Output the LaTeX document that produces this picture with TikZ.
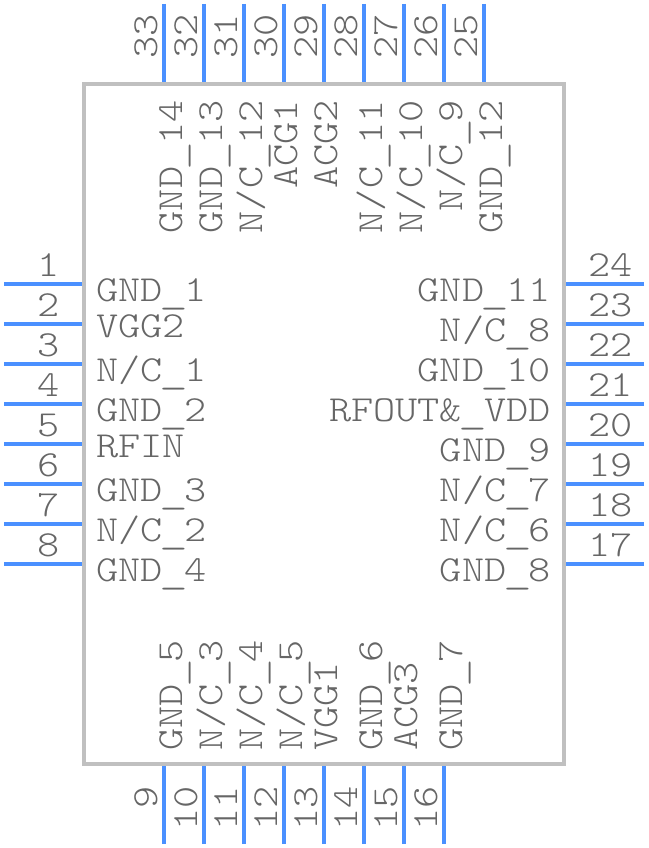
\documentclass[tikz,border=0pt]{standalone}
\usepackage{fontspec}
\setmonofont[FakeStretch=1.15]{Latin Modern Mono Light}
\definecolor{pinblue}{HTML}{4A90FF}
\definecolor{bodygray}{HTML}{C0C0C0}
\definecolor{textgray}{HTML}{666666}
\newcommand{\us}{\raisebox{-2.2pt}{\makebox[22.2pt]{\scalebox{1.3}[1]{\_}}}}
\tikzset{
  txt/.style={inner sep=0pt,text=textgray,font=\ttfamily\fontsize{36.7}{36.7}\selectfont},
  pin/.style={draw=pinblue,line width=4pt},
}
\begin{document}
\begin{tikzpicture}[x=1pt,y=-1pt]
\useasboundingbox (0,0) rectangle (648,848);
\node[draw=bodygray,line width=4pt,minimum width=480pt,minimum height=680pt,inner sep=0pt] at (324,424) (body) {};
% left side
\coordinate (p1) at (4,284);
\coordinate (p2) at (4,324);
\coordinate (p3) at (4,364);
\coordinate (p4) at (4,404);
\coordinate (p5) at (4,444);
\coordinate (p6) at (4,484);
\coordinate (p7) at (4,524);
\coordinate (p8) at (4,564);
\draw[pin] (p1) to (p1 -| body.west);
\draw[pin] (p2) to (p2 -| body.west);
\draw[pin] (p3) to (p3 -| body.west);
\draw[pin] (p4) to (p4 -| body.west);
\draw[pin] (p5) to (p5 -| body.west);
\draw[pin] (p6) to (p6 -| body.west);
\draw[pin] (p7) to (p7 -| body.west);
\draw[pin] (p8) to (p8 -| body.west);
\node[txt,anchor=base east] at (60,276) (n1) {1};
\node[txt,anchor=base east] at (60,316) (n2) {2};
\node[txt,anchor=base east] at (60,356) (n3) {3};
\node[txt,anchor=base east] at (60,396) (n4) {4};
\node[txt,anchor=base east] at (60,436) (n5) {5};
\node[txt,anchor=base east] at (60,476) (n6) {6};
\node[txt,anchor=base east] at (60,516) (n7) {7};
\node[txt,anchor=base east] at (60,556) (n8) {8};
\node[txt,anchor=base west] at (96,301) (gnd1) {GND\us 1};
\node[txt,anchor=base west] at (96,337) (vgg2) {VGG2};
\node[txt,anchor=base west] at (96,381) (nc1) {N/C\us 1};
\node[txt,anchor=base west] at (96,421) (gnd2) {GND\us 2};
\node[txt,anchor=base west] at (96,457) (rfin) {RFIN};
\node[txt,anchor=base west] at (96,501) (gnd3) {GND\us 3};
\node[txt,anchor=base west] at (96,541) (nc2) {N/C\us 2};
\node[txt,anchor=base west] at (96,581) (gnd4) {GND\us 4};
% bottom side
\coordinate (p9) at (164,844);
\coordinate (p10) at (204,844);
\coordinate (p11) at (244,844);
\coordinate (p12) at (284,844);
\coordinate (p13) at (324,844);
\coordinate (p14) at (364,844);
\coordinate (p15) at (404,844);
\coordinate (p16) at (444,844);
\draw[pin] (p9) to (p9 |- body.south);
\draw[pin] (p10) to (p10 |- body.south);
\draw[pin] (p11) to (p11 |- body.south);
\draw[pin] (p12) to (p12 |- body.south);
\draw[pin] (p13) to (p13 |- body.south);
\draw[pin] (p14) to (p14 |- body.south);
\draw[pin] (p15) to (p15 |- body.south);
\draw[pin] (p16) to (p16 |- body.south);
\node[txt,rotate=90,anchor=base east] at (157,786) (n9) {9};
\node[txt,rotate=90,anchor=base east] at (197,786) (n10) {10};
\node[txt,rotate=90,anchor=base east] at (237,786) (n11) {11};
\node[txt,rotate=90,anchor=base east] at (277,786) (n12) {12};
\node[txt,rotate=90,anchor=base east] at (317,786) (n13) {13};
\node[txt,rotate=90,anchor=base east] at (357,786) (n14) {14};
\node[txt,rotate=90,anchor=base east] at (397,786) (n15) {15};
\node[txt,rotate=90,anchor=base east] at (437,786) (n16) {16};
\node[txt,rotate=90,anchor=base west] at (182,751) (gnd5) {GND\us 5};
\node[txt,rotate=90,anchor=base west] at (222,751) (nc3) {N/C\us 3};
\node[txt,rotate=90,anchor=base west] at (262,751) (nc4) {N/C\us 4};
\node[txt,rotate=90,anchor=base west] at (302,751) (nc5) {N/C\us 5};
\node[txt,rotate=90,anchor=base west] at (337,751) (vgg1) {VGG1};
\node[txt,rotate=90,anchor=base west] at (382,751) (gnd6) {GND\us 6};
\node[txt,rotate=90,anchor=base west] at (417,751) (acg3) {ACG3};
\node[txt,rotate=90,anchor=base west] at (462,751) (gnd7) {GND\us 7};
% right side
\coordinate (p17) at (644,564);
\coordinate (p18) at (644,524);
\coordinate (p19) at (644,484);
\coordinate (p20) at (644,444);
\coordinate (p21) at (644,404);
\coordinate (p22) at (644,364);
\coordinate (p23) at (644,324);
\coordinate (p24) at (644,284);
\draw[pin] (p17) to (p17 -| body.east);
\draw[pin] (p18) to (p18 -| body.east);
\draw[pin] (p19) to (p19 -| body.east);
\draw[pin] (p20) to (p20 -| body.east);
\draw[pin] (p21) to (p21 -| body.east);
\draw[pin] (p22) to (p22 -| body.east);
\draw[pin] (p23) to (p23 -| body.east);
\draw[pin] (p24) to (p24 -| body.east);
\node[txt,anchor=base west] at (588,556) (n17) {17};
\node[txt,anchor=base west] at (588,516) (n18) {18};
\node[txt,anchor=base west] at (588,476) (n19) {19};
\node[txt,anchor=base west] at (588,436) (n20) {20};
\node[txt,anchor=base west] at (588,396) (n21) {21};
\node[txt,anchor=base west] at (588,356) (n22) {22};
\node[txt,anchor=base west] at (588,316) (n23) {23};
\node[txt,anchor=base west] at (588,276) (n24) {24};
\node[txt,anchor=base east] at (551,581) (gnd8) {GND\us 8};
\node[txt,anchor=base east] at (551,541) (nc6) {N/C\us 6};
\node[txt,anchor=base east] at (551,501) (nc7) {N/C\us 7};
\node[txt,anchor=base east] at (551,461) (gnd9) {GND\us 9};
\node[txt,anchor=base east] at (551,421) (rfout) {RFOUT\&\us VDD};
\node[txt,anchor=base east] at (551,381) (gnd10) {GND\us 10};
\node[txt,anchor=base east] at (551,341) (nc8) {N/C\us 8};
\node[txt,anchor=base east] at (551,301) (gnd11) {GND\us 11};
% top side
\coordinate (p25) at (484,4);
\coordinate (p26) at (444,4);
\coordinate (p27) at (404,4);
\coordinate (p28) at (364,4);
\coordinate (p29) at (324,4);
\coordinate (p30) at (284,4);
\coordinate (p31) at (244,4);
\coordinate (p32) at (204,4);
\coordinate (p33) at (164,4);
\draw[pin] (p25) to (p25 |- body.north);
\draw[pin] (p26) to (p26 |- body.north);
\draw[pin] (p27) to (p27 |- body.north);
\draw[pin] (p28) to (p28 |- body.north);
\draw[pin] (p29) to (p29 |- body.north);
\draw[pin] (p30) to (p30 |- body.north);
\draw[pin] (p31) to (p31 |- body.north);
\draw[pin] (p32) to (p32 |- body.north);
\draw[pin] (p33) to (p33 |- body.north);
\node[txt,rotate=90,anchor=base west] at (477,59) (n25) {25};
\node[txt,rotate=90,anchor=base west] at (437,59) (n26) {26};
\node[txt,rotate=90,anchor=base west] at (397,59) (n27) {27};
\node[txt,rotate=90,anchor=base west] at (357,59) (n28) {28};
\node[txt,rotate=90,anchor=base west] at (317,59) (n29) {29};
\node[txt,rotate=90,anchor=base west] at (277,59) (n30) {30};
\node[txt,rotate=90,anchor=base west] at (237,59) (n31) {31};
\node[txt,rotate=90,anchor=base west] at (197,59) (n32) {32};
\node[txt,rotate=90,anchor=base west] at (157,59) (n33) {33};
\node[txt,rotate=90,anchor=base east] at (502,100) (gnd12) {GND\us 12};
\node[txt,rotate=90,anchor=base east] at (462,100) (nc9) {N/C\us 9};
\node[txt,rotate=90,anchor=base east] at (422,100) (nc10) {N/C\us 10};
\node[txt,rotate=90,anchor=base east] at (382,100) (nc11) {N/C\us 11};
\node[txt,rotate=90,anchor=base east] at (337,100) (acg2) {ACG2};
\node[txt,rotate=90,anchor=base east] at (297,100) (acg1) {ACG1};
\node[txt,rotate=90,anchor=base east] at (262,100) (nc12) {N/C\us 12};
\node[txt,rotate=90,anchor=base east] at (222,100) (gnd13) {GND\us 13};
\node[txt,rotate=90,anchor=base east] at (182,100) (gnd14) {GND\us 14};
\end{tikzpicture}
\end{document}
